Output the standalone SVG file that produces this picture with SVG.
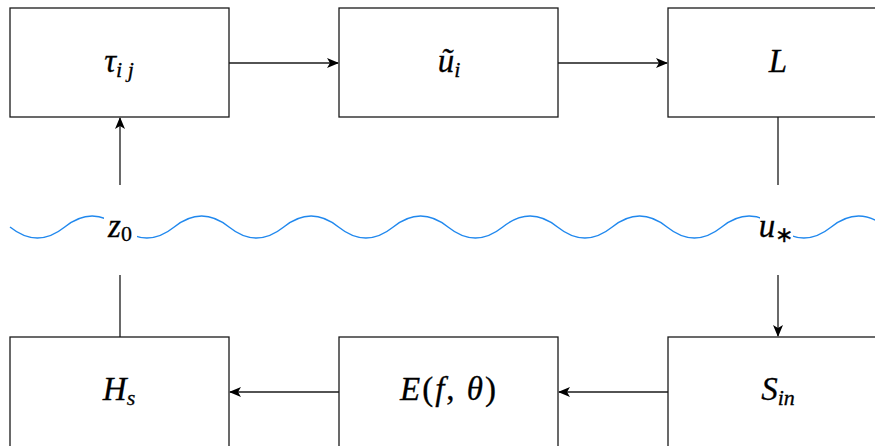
<svg xmlns="http://www.w3.org/2000/svg" width="875" height="446" viewBox="0 0 875 446">
<defs>
<style>
.box{fill:#fff;stroke:#1a1a1a;stroke-width:1.3}
.ln{fill:none;stroke:#1a1a1a;stroke-width:1.3}
.m{font-family:'Liberation Serif','Times New Roman',serif;font-style:italic;font-size:33px;fill:#000;stroke:#000;stroke-width:0.3;text-anchor:middle}
.sub{font-size:22px}
.up{font-style:normal}
.wave{fill:none;stroke:#2088ee;stroke-width:1.4}
</style>
<marker id="ah" viewBox="0 0 12 10" refX="11" refY="5" markerWidth="12" markerHeight="10" markerUnits="userSpaceOnUse" orient="auto">
<path d="M0,0 L12,5 L0,10 L3,5 Z" fill="#000"/>
</marker>
</defs>
<rect width="875" height="446" fill="#fff"/>
<g id="connectors">
<path class="wave" d="M10,227 Q37.375,249 64.75,227 T119.5,227 T174.25,227 T229,227 T283.75,227 T338.5,227 T393.25,227 T448,227 T502.75,227 T557.5,227 T612.25,227 T667,227 T721.75,227 T776.5,227 T831.25,227 T886,227"/>
<line class="ln" x1="229" y1="63" x2="338" y2="63" marker-end="url(#ah)"/>
<line class="ln" x1="558" y1="63" x2="667" y2="63" marker-end="url(#ah)"/>
<line class="ln" x1="120" y1="185" x2="120" y2="118" marker-end="url(#ah)"/>
<line class="ln" x1="778" y1="117" x2="778" y2="185"/>
<line class="ln" x1="778" y1="275" x2="778" y2="336" marker-end="url(#ah)"/>
<line class="ln" x1="120" y1="275" x2="120" y2="337"/>
<line class="ln" x1="668" y1="392" x2="559" y2="392" marker-end="url(#ah)"/>
<line class="ln" x1="339" y1="392" x2="230" y2="392" marker-end="url(#ah)"/>
</g>
<g id="z0">
<rect x="104" y="208" width="33" height="38" fill="#fff"/>
<text class="m" x="120" y="237">z<tspan class="sub up" dy="4">0</tspan></text>
</g>
<g id="ustar">
<rect x="760" y="208" width="33" height="38" fill="#fff"/>
<text class="m" x="776" y="237">u<tspan class="sub up" dy="5">∗</tspan></text>
</g>
<g id="tau">
<rect class="box" x="10" y="8" width="219" height="109"/>
<text class="m" x="119" y="72">τ<tspan class="sub" dy="5">i j</tspan></text>
</g>
<g id="utilde">
<rect class="box" x="339" y="8" width="219" height="109"/>
<text class="m" x="449" y="72">ũ<tspan class="sub" dy="5">i</tspan></text>
</g>
<g id="L">
<rect class="box" x="668" y="8" width="219" height="109"/>
<text class="m" x="778" y="72">L</text>
</g>
<g id="Hs">
<rect class="box" x="10" y="337" width="219" height="115"/>
<text class="m" x="119" y="400">H<tspan class="sub" dy="5">s</tspan></text>
</g>
<g id="E">
<rect class="box" x="339" y="337" width="219" height="115"/>
<text class="m" x="449" y="400" letter-spacing="2">E<tspan class="up">(</tspan>f<tspan class="up">, </tspan>θ<tspan class="up">)</tspan></text>
</g>
<g id="Sin">
<rect class="box" x="668" y="337" width="219" height="115"/>
<text class="m" x="778" y="400">S<tspan class="sub" dy="5">in</tspan></text>
</g>
</svg>
